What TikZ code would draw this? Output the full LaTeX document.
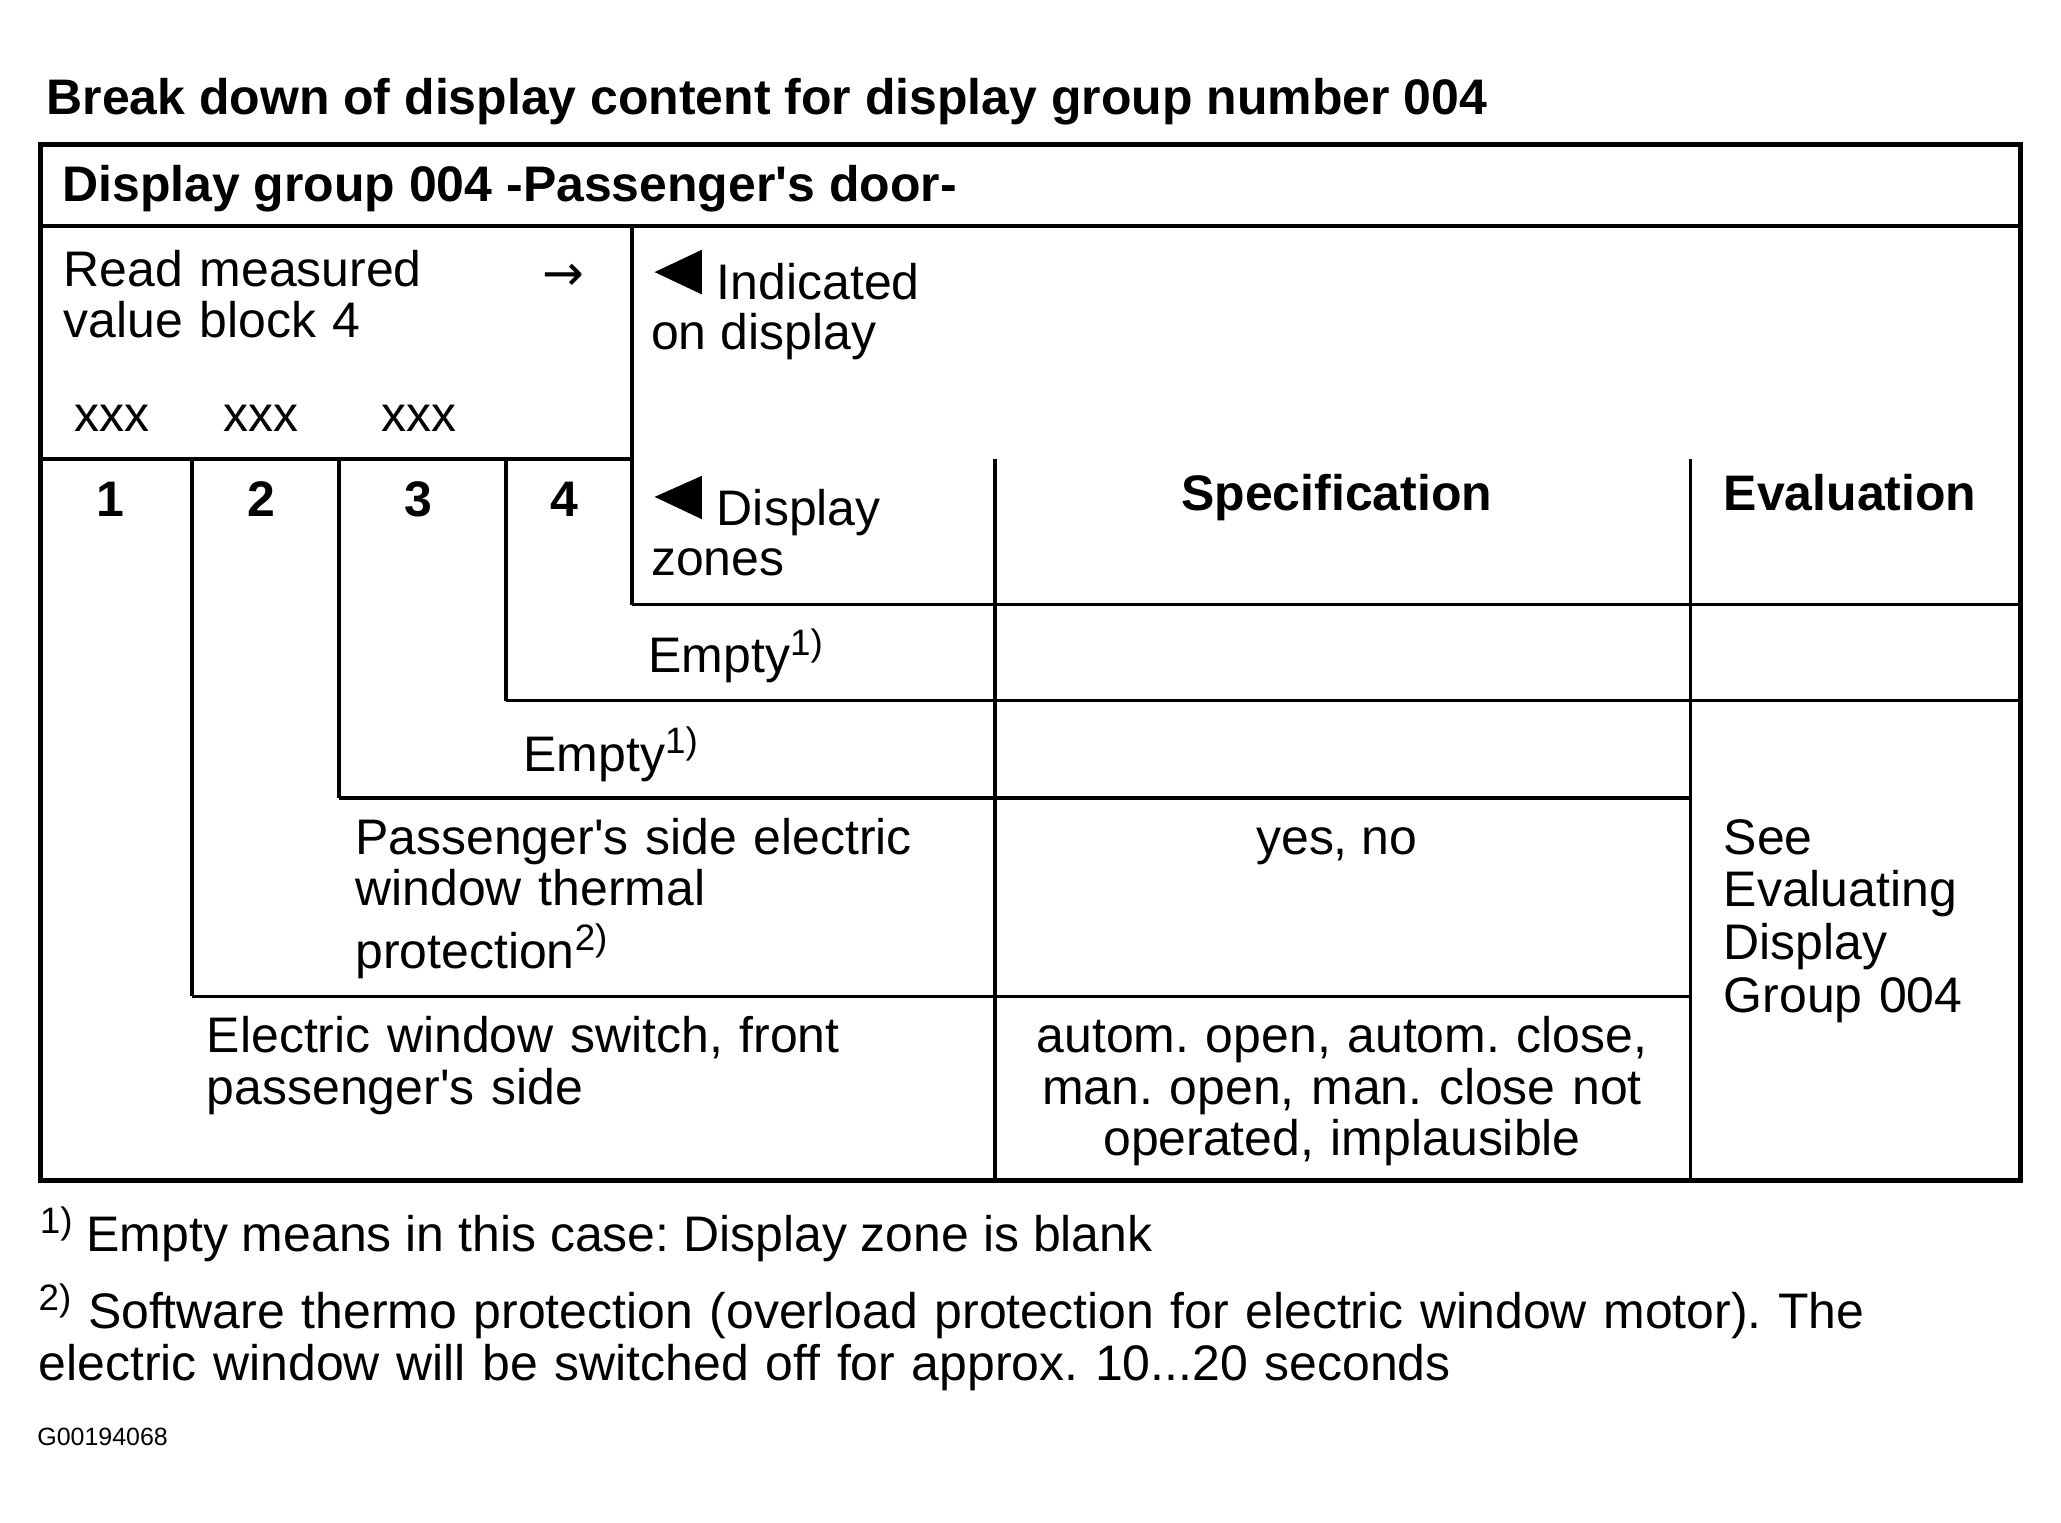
\documentclass[tikz,border=0pt]{standalone}
\usepackage{fontspec}
\setmainfont{Liberation Sans}[Ligatures=TeXOff]
\newfontfamily\symfont{DejaVu Sans}
\frenchspacing

\newcommand{\fnmark}[1]{\raisebox{0.36em}{\fontsize{14}{14}\selectfont #1}}

\begin{document}
\begin{tikzpicture}[
    x=0.5pt, y=-0.5pt,
    font=\fontsize{19}{19.5}\selectfont,
    txt/.style={anchor=base west, inner sep=0pt},
    para/.style={txt, text width=#1, align=left},
    hdr/.style={txt, font=\fontsize{19}{19.5}\selectfont\bfseries},
    ctr/.style={anchor=base, inner sep=0pt},
    num/.style={ctr, font=\fontsize{19}{19.5}\selectfont\bfseries},
    frame/.style={line width=1.8pt},
    grid/.style={line width=1.4pt}
]
\useasboundingbox (0,0) rectangle (1568,1158);

% Frame and grid
\draw[frame] (31,110) rectangle (1537,898);
\draw[grid] (31,172) -- (1537,172);
\draw[grid] (31,349) -- (481,349);
\draw[grid] (481,460) -- (1537,460);
\draw[grid] (385,533) -- (1537,533);
\draw[grid] (258,607) -- (1286,607);
\draw[grid] (146,758) -- (1286,758);
\draw[grid] (146,349) -- (146,758);
\draw[grid] (258,349) -- (258,607);
\draw[grid] (385,349) -- (385,533);
\draw[grid] (481,172) -- (481,460);
\draw[grid] (757,349) -- (757,898);
\draw[grid] (1286,349) -- (1286,898);

% Pointers
\fill (534,190) -- (534,224) -- (498,207) -- cycle;
\fill (534,362) -- (534,395) -- (498,378) -- cycle;

% Nodes
\node[hdr] (title) at (35,87) {Break down of display content for display group number 004};
\node[hdr] (group) at (47,153) {Display group 004 -Passenger's door-};
\node[para=170pt] (readblock) at (48,218) {Read measured\\value block 4};
\node[txt, font=\fontsize{19}{19.5}\symfont] (arrow) at (412,221) {→};
\node[txt] (xxxa) at (56,328) {xxx};
\node[txt] (xxxb) at (170,328) {xxx};
\node[txt] (xxxc) at (290,328) {xxx};
\node[txt] (indicated) at (545,228) {Indicated};
\node[txt] (ondisplay) at (495,266) {on display};
\node[num] (zone1) at (84,393) {1};
\node[num] (zone2) at (199,393) {2};
\node[num] (zone3) at (318,393) {3};
\node[num] (zone4) at (429,393) {4};
\node[txt] (display) at (545,400) {Display};
\node[txt] (zones) at (495,438) {zones};
\node[num] (spec) at (1017,388) {Specification};
\node[hdr] (eval) at (1311,388) {Evaluation};
\node[txt] (empty4) at (493,512) {Empty\fnmark{1)}};
\node[txt] (empty3) at (398,587) {Empty\fnmark{1)}};
\node[para=240pt] (thermal) at (270,650) {Passenger's side electric\\window thermal\\[4.5pt]protection\fnmark{2)}};
\node[ctr] (yesno) at (1017,650) {yes, no};
\node[para=120pt, font=\fontsize{19}{20}\selectfont] (see) at (1311,650) {See\\Evaluating\\Display\\Group 004};
\node[para=300pt] (switch) at (157,801) {Electric window switch, front\\passenger's side};
\node[ctr, text width=250pt, align=center] (switchspec) at (1021,801) {autom. open, autom. close,\\man. open, man. close not\\operated, implausible};
\node[txt] (note1) at (30,952) {\fnmark{1)} Empty means in this case: Display zone is blank};
\node[para=760pt] (note2) at (29,1011) {\fnmark{2)} Software thermo protection (overload protection for electric window motor). The\\electric window will be switched off for approx. 10...20 seconds};
\node[txt, font=\fontsize{9.5}{10}\selectfont] (code) at (28,1100) {G00194068};

\end{tikzpicture}
\end{document}
